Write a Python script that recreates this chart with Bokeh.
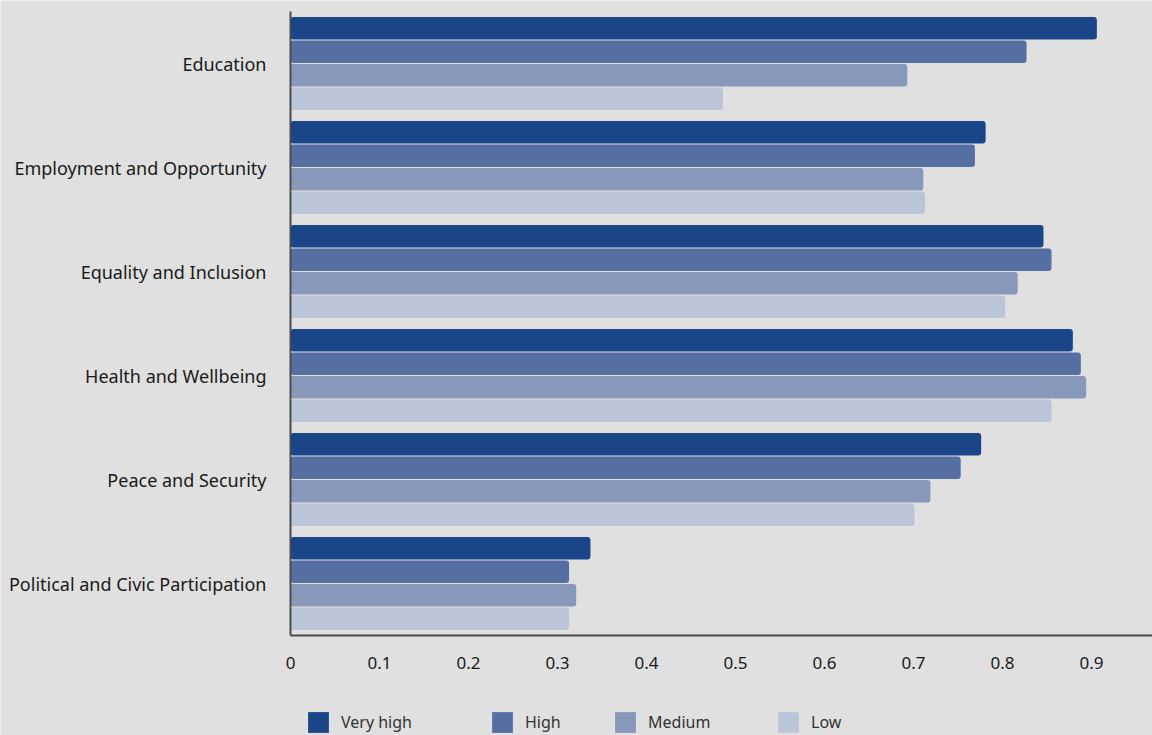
from bokeh.plotting import figure
from bokeh.models import (ColumnDataSource, Range1d, Legend, LegendItem, FixedTicker,
                          CustomJSTickFormatter)
from bokeh.transform import dodge
from bokeh.embed import file_html
from bokeh.resources import INLINE

categories = ["Education", "Employment and Opportunity", "Equality and Inclusion",
              "Health and Wellbeing", "Peace and Security", "Political and Civic Participation"]
series = ["Very high", "High", "Medium", "Low"]
very_high = [0.906, 0.781, 0.846, 0.879, 0.776, 0.337]
high = [0.827, 0.769, 0.855, 0.888, 0.753, 0.313]
medium = [0.693, 0.711, 0.817, 0.894, 0.719, 0.321]
low = [0.486, 0.713, 0.803, 0.855, 0.701, 0.313]
colors = ["#1b4589", "#566fa3", "#8898bb", "#bac6d8"]
x_ticks = [0, 0.1, 0.2, 0.3, 0.4, 0.5, 0.6, 0.7, 0.8, 0.9]

n = len(categories)
ypos = [n - 1 - i for i in range(n)]  # Education on top
src = ColumnDataSource(dict(y=ypos, vh=very_high, h=high, m=medium, l=low))

FONT = "Noto Sans"
BG = "#e0e0e0"

W, H = 1152, 735
# the frame covers the whole figure; axes are drawn at fixed locations inside it
axis_left_px = 290
x_max = 0.9685
x_min = -x_max * axis_left_px / (W - axis_left_px)
px_per_cat = 104.0
top_px = 11
y_top = (n - 0.5) + top_px / px_per_cat
y_bottom = (n - 0.5) - (H - top_px) / px_per_cat

p = figure(width=W, height=H, output_backend="svg", toolbar_location=None,
           x_range=Range1d(x_min, x_max), y_range=Range1d(y_bottom, y_top),
           min_border_left=0, min_border_right=0, min_border_top=0, min_border_bottom=0)
p.background_fill_color = BG
p.border_fill_color = BG
p.outline_line_color = None

bw = 0.226
offsets = [1.5 * bw, 0.5 * bw, -0.5 * bw, -1.5 * bw]
fields = ["vh", "h", "m", "l"]
renderers = []
for f, off, c in zip(fields, offsets, colors):
    r = p.hbar(y=dodge("y", off), right=f, left=0, height=bw - 0.008,
               source=src, fill_color=c, line_color=None, border_radius=3)
    renderers.append(r)

# x axis at the bottom of the category area
p.xaxis.fixed_location = -0.5
p.xaxis.bounds = (0, x_max)
p.xaxis.ticker = FixedTicker(ticks=x_ticks)
p.xaxis.formatter = CustomJSTickFormatter(code="return tick == 0 ? '0' : tick.toFixed(1)")
p.xaxis.major_tick_line_color = None
p.xaxis.minor_tick_line_color = None
p.xaxis.major_tick_out = 0
p.xaxis.axis_line_color = "#4a4a4a"
p.xaxis.axis_line_width = 2
p.xaxis.major_label_text_font = FONT
p.xaxis.major_label_text_font_size = "17px"
p.xaxis.major_label_text_color = "#1a1a1a"
p.xaxis.major_label_standoff = 21

# y axis at x = 0
p.yaxis.fixed_location = 0
p.yaxis.bounds = (-0.5, n - 0.5)
p.yaxis.ticker = FixedTicker(ticks=ypos)
p.yaxis.major_label_overrides = {yv: c for yv, c in zip(ypos, categories)}
p.yaxis.major_tick_line_color = None
p.yaxis.minor_tick_line_color = None
p.yaxis.major_tick_out = 0
p.yaxis.axis_line_color = "#4a4a4a"
p.yaxis.axis_line_width = 2
p.yaxis.major_label_text_font = FONT
p.yaxis.major_label_text_font_size = "18px"
p.yaxis.major_label_text_color = "#1a1a1a"
p.yaxis.major_label_standoff = 24

p.ygrid.grid_line_color = None
p.xgrid.grid_line_color = None

# legend: one small legend per series so each sits where the reference puts it
leg_x = [305, 489, 612, 775]
for r, name, lx in zip(renderers, series, leg_x):
    lg = Legend(items=[LegendItem(label=name, renderers=[r])], location=(lx, 0),
                orientation="horizontal", glyph_width=26, glyph_height=26, label_height=26,
                label_standoff=10, padding=0, margin=0, spacing=0,
                label_text_font=FONT, label_text_font_size="16px", label_text_color="#333333",
                background_fill_alpha=0, border_line_alpha=0)
    p.add_layout(lg, "center")

open("out.html", "w").write(file_html(p, INLINE))
